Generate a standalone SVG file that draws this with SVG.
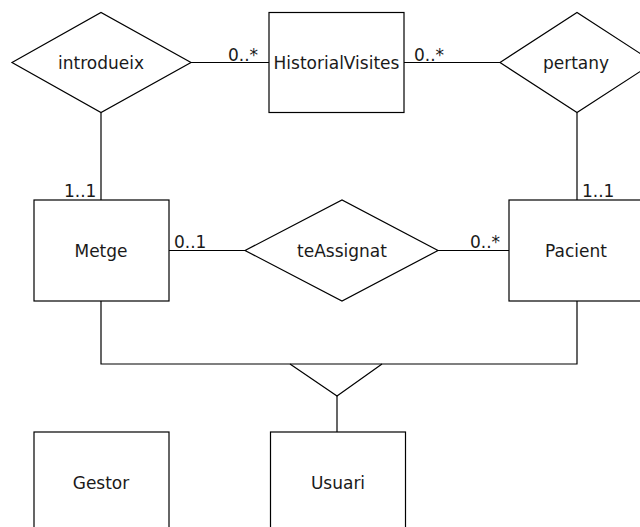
<svg xmlns="http://www.w3.org/2000/svg" width="640" height="527" viewBox="0 0 640 527">
<style>
  .shape { fill: #fff; stroke: #000; stroke-width: 1.2; }
  .line { fill: none; stroke: #000; stroke-width: 1.2; }
  text { font-family: "DejaVu Sans", "Liberation Sans", sans-serif; font-size: 17px; fill: #1a1a1a; }
  .c { text-anchor: middle; }
</style>
<rect width="640" height="527" fill="#fff"/>
<g id="connectors">
  <line class="line" x1="191" y1="62.5" x2="269" y2="62.5"/>
  <line class="line" x1="404" y1="62.5" x2="500" y2="62.5"/>
  <line class="line" x1="101" y1="112.5" x2="101" y2="200"/>
  <line class="line" x1="577" y1="112.5" x2="577" y2="200"/>
  <line class="line" x1="169" y1="250.5" x2="245" y2="250.5"/>
  <line class="line" x1="438" y1="250.5" x2="509" y2="250.5"/>
  <polyline class="line" points="101,301 101,364 577,364 577,301"/>
  <polyline class="line" points="290,364 337,396 382,364"/>
  <line class="line" x1="337" y1="396" x2="337" y2="432"/>
  <text x="228" y="61">0..*</text>
  <text x="414" y="61">0..*</text>
  <text x="64" y="197">1..1</text>
  <text x="582" y="197">1..1</text>
  <text x="174" y="248">0..1</text>
  <text x="470" y="248">0..*</text>
</g>
<g id="introdueix">
  <polygon class="shape" points="12,62.5 101,12.5 191,62.5 101,112.5"/>
  <text class="c" x="101" y="69">introdueix</text>
</g>
<g id="HistorialVisites">
  <rect class="shape" x="269" y="12.5" width="135" height="100"/>
  <text class="c" x="336.5" y="69">HistorialVisites</text>
</g>
<g id="pertany">
  <polygon class="shape" points="500,62.5 577,12.5 654,62.5 577,112.5"/>
  <text class="c" x="576" y="69">pertany</text>
</g>
<g id="Metge">
  <rect class="shape" x="34" y="200" width="135" height="101"/>
  <text class="c" x="101" y="257">Metge</text>
</g>
<g id="teAssignat">
  <polygon class="shape" points="245,250.5 342,200 438,250.5 342,301"/>
  <text class="c" x="342" y="257">teAssignat</text>
</g>
<g id="Pacient">
  <rect class="shape" x="509" y="200" width="135" height="101"/>
  <text class="c" x="576" y="257">Pacient</text>
</g>
<g id="Gestor">
  <rect class="shape" x="34" y="432" width="135" height="101"/>
  <text class="c" x="101" y="489">Gestor</text>
</g>
<g id="Usuari">
  <rect class="shape" x="270.5" y="432" width="135" height="101"/>
  <text class="c" x="338" y="489">Usuari</text>
</g>
</svg>
